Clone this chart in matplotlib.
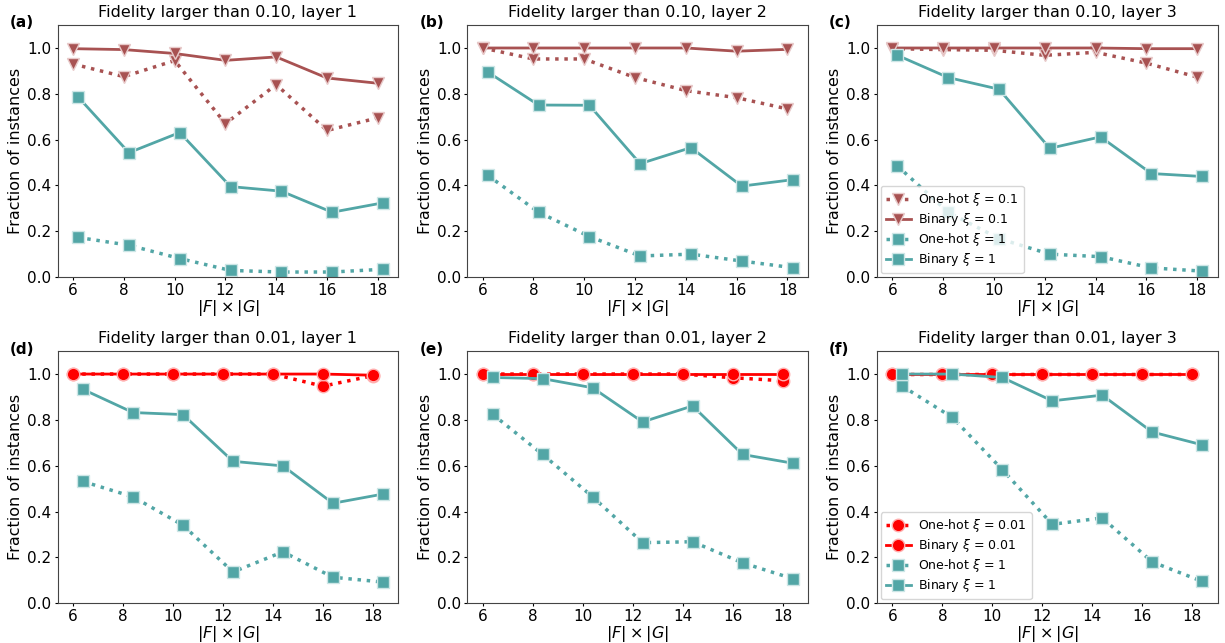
import matplotlib
matplotlib.use("Agg")
import matplotlib.pyplot as plt
import numpy as np

x = np.array([6, 8, 10, 12, 14, 16, 18])

# row 1: fidelity > 0.10 (xi = 0.1 and xi = 1)
onehot_01 = [
    [0.93, 0.875, 0.945, 0.67, 0.84, 0.64, 0.695],
    [1.0, 0.952, 0.952, 0.871, 0.814, 0.783, 0.734],
    [0.997, 0.993, 0.99, 0.968, 0.981, 0.934, 0.873],
]
binary_01 = [
    [0.997, 0.993, 0.976, 0.946, 0.961, 0.869, 0.846],
    [1.0, 1.0, 1.0, 1.0, 1.0, 0.986, 0.994],
    [1.0, 1.0, 1.0, 1.0, 1.0, 0.997, 0.997],
]
onehot_1_top = [
    [0.173, 0.139, 0.081, 0.029, 0.022, 0.022, 0.034],
    [0.444, 0.283, 0.177, 0.092, 0.100, 0.070, 0.041],
    [0.485, 0.283, 0.168, 0.100, 0.089, 0.040, 0.026],
]
binary_1_top = [
    [0.786, 0.543, 0.631, 0.395, 0.375, 0.283, 0.324],
    [0.895, 0.751, 0.750, 0.495, 0.565, 0.397, 0.425],
    [0.968, 0.871, 0.820, 0.562, 0.612, 0.452, 0.439],
]

# row 2: fidelity > 0.01 (xi = 0.01 and xi = 1)
onehot_001 = [
    [1.0, 1.0, 1.0, 1.0, 1.0, 0.947, 0.993],
    [1.0, 1.0, 1.0, 1.0, 1.0, 0.984, 0.971],
    [1.0, 1.0, 1.0, 1.0, 1.0, 1.0, 1.0],
]
binary_001 = [
    [1.0, 1.0, 1.0, 1.0, 1.0, 1.0, 0.995],
    [1.0, 1.0, 1.0, 1.0, 1.0, 1.0, 1.0],
    [1.0, 1.0, 1.0, 1.0, 1.0, 1.0, 1.0],
]
onehot_1_bot = [
    [0.531, 0.464, 0.340, 0.136, 0.224, 0.113, 0.092],
    [0.824, 0.649, 0.464, 0.264, 0.268, 0.176, 0.107],
    [0.947, 0.811, 0.583, 0.344, 0.372, 0.180, 0.095],
]
binary_1_bot = [
    [0.933, 0.832, 0.823, 0.619, 0.599, 0.436, 0.476],
    [0.985, 0.980, 0.940, 0.791, 0.861, 0.649, 0.611],
    [1.0, 1.0, 0.985, 0.883, 0.908, 0.747, 0.691],
]

RED_T = "#a85252"
TEAL = "#52a6a6"
RED_C = "#ff0000"

fig, axes = plt.subplots(2, 3, figsize=(12.25, 6.43), dpi=100)
fig.subplots_adjust(left=0.047, right=0.994, top=0.961, bottom=0.062,
                    wspace=0.202, hspace=0.294)

letters = "abcdef"
mk = dict(ms=9, mew=1.0)

for j in range(3):
    ax = axes[0, j]
    ax.plot(x, onehot_01[j], ls=":", lw=2.5, color=RED_T, marker="v",
            mec="#e8caca", label=r"One-hot $\xi$ = 0.1", **mk)
    ax.plot(x, binary_01[j], ls="-", lw=2, color=RED_T, marker="v",
            mec="#e8caca", label=r"Binary $\xi$ = 0.1", **mk)
    ax.plot(x + 0.2, onehot_1_top[j], ls=":", lw=2.5, color=TEAL, marker="s",
            mec="#cde6e6", label=r"One-hot $\xi$ = 1", **mk)
    ax.plot(x + 0.2, binary_1_top[j], ls="-", lw=2, color=TEAL, marker="s",
            mec="#cde6e6", label=r"Binary $\xi$ = 1", **mk)
    ax.set_title(f"Fidelity larger than 0.10, layer {j + 1}", fontsize=11.5)

for j in range(3):
    ax = axes[1, j]
    ax.plot(x, onehot_001[j], ls=":", lw=2.5, color=RED_C, marker="o",
            mec="#ffb0b0", label=r"One-hot $\xi$ = 0.01", **mk)
    ax.plot(x, binary_001[j], ls="-", lw=2, color=RED_C, marker="o",
            mec="#ffb0b0", label=r"Binary $\xi$ = 0.01", **mk)
    ax.plot(x + 0.4, onehot_1_bot[j], ls=":", lw=2.5, color=TEAL, marker="s",
            mec="#cde6e6", label=r"One-hot $\xi$ = 1", **mk)
    ax.plot(x + 0.4, binary_1_bot[j], ls="-", lw=2, color=TEAL, marker="s",
            mec="#cde6e6", label=r"Binary $\xi$ = 1", **mk)
    ax.set_title(f"Fidelity larger than 0.01, layer {j + 1}", fontsize=11.5)

for k, ax in enumerate(axes.flat):
    ax.set_ylim(0, 1.1)
    ax.set_xticks(x)
    ax.set_yticks([0.0, 0.2, 0.4, 0.6, 0.8, 1.0])
    ax.tick_params(labelsize=11, length=2.5, pad=2)
    ax.set_xlabel(r"$|F| \times |G|$", fontsize=11.5, labelpad=0)
    ax.set_ylabel("Fraction of instances", fontsize=11.5, labelpad=3)
    for s in ax.spines.values():
        s.set_color("#444444")
    pos = ax.get_position()
    fig.text(pos.x0 - 0.039, pos.y1 + 0.015, f"({letters[k]})",
             fontsize=11, fontweight="bold", va="top")

for ax in (axes[0, 2], axes[1, 2]):
    ax.legend(loc="lower left", fontsize=9, labelspacing=0.25,
              borderaxespad=0.3, handletextpad=0.6)

fig.savefig("out.png", dpi=100)
